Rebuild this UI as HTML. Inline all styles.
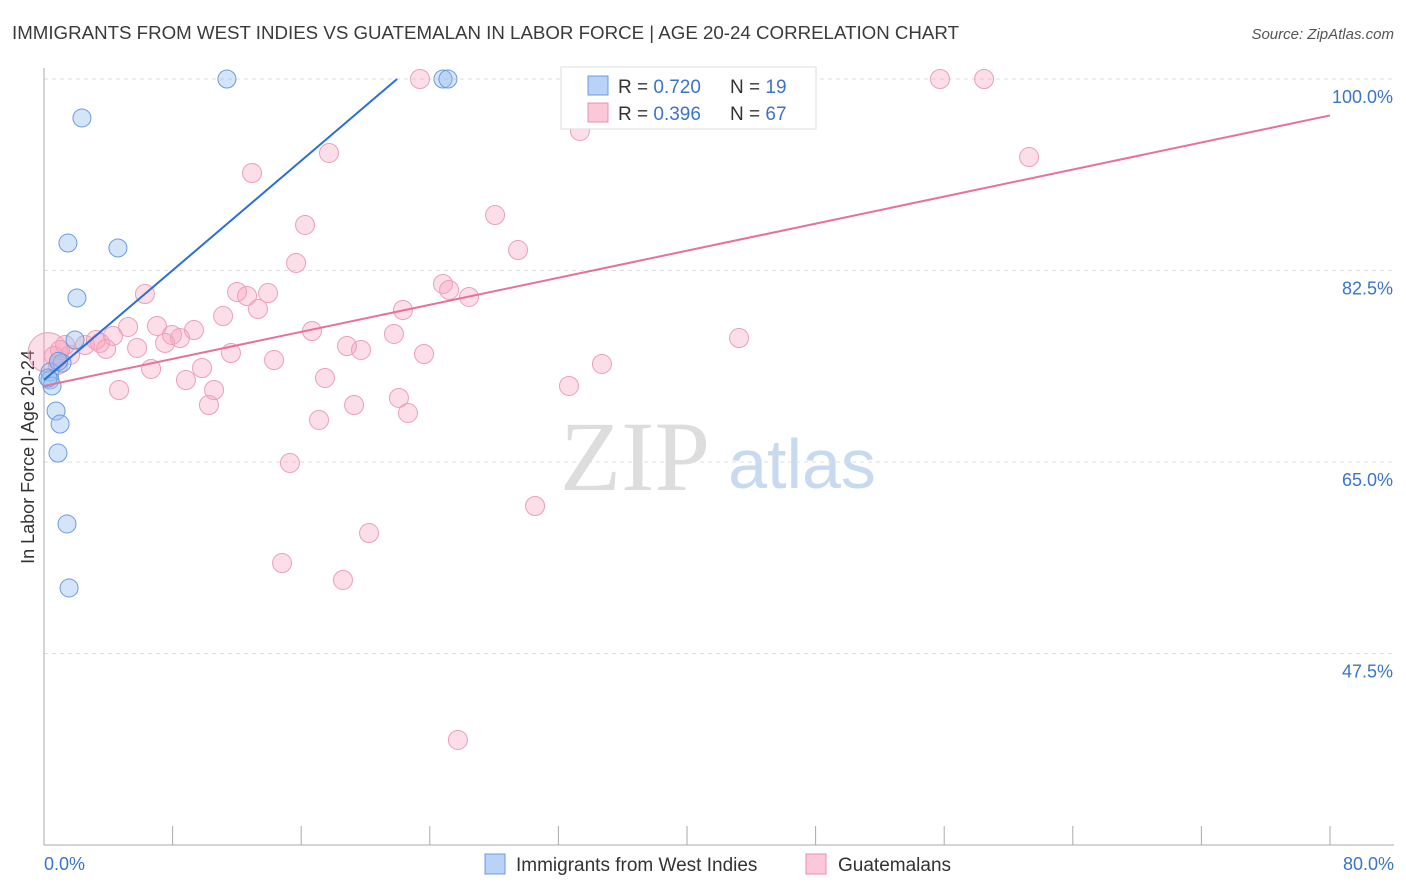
<!DOCTYPE html>
<html><head><meta charset="utf-8"><style>
body{margin:0;background:#fff;font-family:"Liberation Sans",sans-serif;}
svg{display:block}
</style></head><body>
<svg id="c" width="1406" height="892" xmlns="http://www.w3.org/2000/svg">
<text x="12" y="39" font-size="18" fill="#3a3a3a" textLength="947" lengthAdjust="spacingAndGlyphs">IMMIGRANTS FROM WEST INDIES VS GUATEMALAN IN LABOR FORCE | AGE 20-24 CORRELATION CHART</text>
<text x="1394" y="39" font-size="15" font-style="italic" fill="#555" text-anchor="end">Source: ZipAtlas.com</text>
<text x="635" y="490" font-size="100" font-family="Liberation Serif" fill="#ddd" text-anchor="middle">ZIP</text>
<text x="802" y="488" font-size="70" fill="#c8daf0" text-anchor="middle">atlas</text>
<text transform="translate(34,457) rotate(-90)" font-size="18" fill="#333" text-anchor="middle">In Labor Force | Age 20-24</text>
<g id="grid"></g><g id="pts"></g><g id="lines"></g>
<g>
<rect x="561" y="67" width="255" height="62" fill="#fff" stroke="#ddd"/>
<rect x="588" y="76" width="20" height="19" fill="#b8d3f5" stroke="#6a9be0"/>
<rect x="588" y="103" width="20" height="19" fill="#fac8d8" stroke="#e890ab"/>
<text x="618" y="93" font-size="19" fill="#333">R = <tspan fill="#3a75c8">0.720</tspan></text>
<text x="730" y="93" font-size="19" fill="#333">N = <tspan fill="#3a75c8">19</tspan></text>
<text x="618" y="120" font-size="19" fill="#333">R = <tspan fill="#3a75c8">0.396</tspan></text>
<text x="730" y="120" font-size="19" fill="#333">N = <tspan fill="#3a75c8">67</tspan></text>
</g>
<g>
<rect x="485" y="854" width="20" height="20" fill="#b8d3f5" stroke="#6a9be0"/>
<text x="516" y="871" font-size="19" fill="#333">Immigrants from West Indies</text>
<rect x="806" y="854" width="20" height="20" fill="#fac8d8" stroke="#e890ab"/>
<text x="838" y="871" font-size="19" fill="#333">Guatemalans</text>
</g>
<text x="44" y="870" font-size="18" fill="#3a75c8">0.0%</text>
<text x="1394" y="870" font-size="18" fill="#3a75c8" text-anchor="end">80.0%</text>
</svg>
<script>
const yTicks=[100,82.5,65,47.5];
const xTicks=[0,8,16,24,32,40,48,56,64,72,80];
const blueX=[11.38,24.82,25.13,2.36,1.49,4.60,2.05,1.93,1.12,0.37,0.37,0.5,0.75,1.0,0.87,1.43,1.56,0.25,0.9];
const blueY=[100,100,100,96.44,85.01,84.56,79.99,76.15,74.05,73.23,72.5,71.95,69.66,68.47,65.82,59.34,53.49,72.68,74.2];
const pinkPx=[[420,79],[633,79],[940,79],[984,79],[745,79],[580,131],[1029,157],[329,153],[252,173],[495,215],[305,225],[518,250],[296,263],[443,284],[449,290],[469,297],[145,294],[237,292],[247,296],[268,293],[258,309],[223,316],[403,310],[157,326],[128,327],[172,335],[194,330],[312,331],[394,334],[739,338],[180,338],[165,343],[96,340],[100,343],[113,336],[137,348],[106,349],[231,353],[347,346],[361,350],[424,354],[274,360],[602,364],[151,369],[202,368],[70,355],[60,350],[54,356],[325,378],[186,380],[569,386],[119,390],[214,390],[399,398],[209,405],[354,405],[408,413],[319,420],[290,463],[535,506],[369,533],[282,563],[343,580],[458,740],[65,345],[85,345],[58,365]];
const pinkX=pinkPx.map(p=>+((p[0]-44)*0.06221).toFixed(2));
const pinkY=pinkPx.map(p=>+(100-(p[1]-79)*0.09138).toFixed(2));
const blueFit=[72.5,1.252], pinkFit=[71.95,0.309];
const X=v=>44+v*16.075, Y=v=>79+(100-v)*10.943;
const NS="http://www.w3.org/2000/svg";
function mk(t,a,p){const e=document.createElementNS(NS,t);for(const k in a)e.setAttribute(k,a[k]);document.getElementById(p).appendChild(e);return e;}
yTicks.forEach(t=>{
 const l=mk('line',{x1:44,x2:1394,y1:Y(t),y2:Y(t),stroke:'#ddd','stroke-dasharray':'4,4'},'grid');
 
 
 const tx=mk('text',{x:1393,y:Y(t)+24,'font-size':18,fill:'#3a75c8','text-anchor':'end'},'grid');
 tx.textContent=t.toFixed(1)+'%';
 
 
});
mk('line',{x1:44,x2:44,y1:68,y2:845,stroke:'#aaa'},'grid');
mk('line',{x1:44,x2:1394,y1:845,y2:845,stroke:'#aaa'},'grid');
xTicks.forEach(t=>{
 const l=mk('line',{x1:X(t),x2:X(t),y1:826,y2:845,stroke:'#aaa'},'grid');
 
 
});
pinkX.forEach((x,i)=>{
 const c=mk('circle',{cx:X(x),cy:Y(pinkY[i]),r:9.5,fill:'rgba(245,160,190,0.35)',stroke:'#eba0b8','stroke-width':1},'pts');
 
 
});
mk('circle',{cx:X(0.25),cy:Y(75),r:20,fill:'rgba(245,160,190,0.35)',stroke:'#eba0b8'},'pts');
blueX.forEach((x,i)=>{
 const c=mk('circle',{cx:X(x),cy:Y(blueY[i]),r:9,fill:'rgba(150,190,240,0.4)',stroke:'#6a9be0','stroke-width':1},'pts');
 
 
});
const bx2=(100-blueFit[0])/blueFit[1];
const bl=mk('line',{x1:X(0),y1:Y(blueFit[0]),x2:X(bx2),y2:Y(100),stroke:'#2a6fd6','stroke-width':2},'lines');


const pl=mk('line',{x1:X(0),y1:Y(pinkFit[0]),x2:X(80),y2:Y(pinkFit[0]+pinkFit[1]*80),stroke:'#e8709a','stroke-width':2},'lines');


</script>
</body></html>
